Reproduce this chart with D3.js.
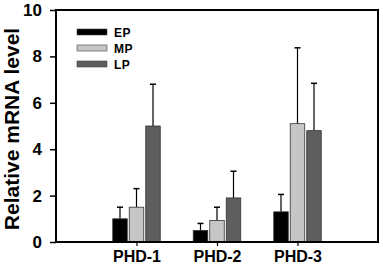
<!DOCTYPE html>
<html>
<head>
<meta charset="utf-8">
<script src="https://cdn.jsdelivr.net/npm/d3@7"></script>
<style>
  body { margin: 0; background: #fff; }
  svg { display: block; font-family: "Liberation Sans", Arial, sans-serif; }
</style>
</head>
<body>
<div id="chart"></div>
<script>
// chart data
const genes = ["PHD-1", "PHD-2", "PHD-3"];
const stages = ["EP", "MP", "LP"];
const epValues = [1.0, 0.5, 1.3];
const mpValues = [1.5, 0.93, 5.1];
const lpValues = [5.0, 1.9, 4.8];
const epErrors = [0.5, 0.3, 0.75];
const mpErrors = [0.8, 0.57, 3.27];
const lpErrors = [1.8, 1.15, 2.04];
const yTicks = [0, 2, 4, 6, 8, 10];

const width = 383, height = 265;
const margin = { top: 10, right: 5, bottom: 23, left: 56 };
const colors = { EP: "#000000", MP: "#c6c6c6", LP: "#5e5e5e" };

const svg = d3.select("#chart").append("svg")
    .attr("width", width)
    .attr("height", height);

const innerW = width - margin.left - margin.right;
const innerH = height - margin.top - margin.bottom;
const g = svg.append("g")
    .attr("transform", `translate(${margin.left},${margin.top})`);

// scales
const x = d3.scaleLinear().domain([0, genes.length + 1]).range([0, innerW]);
const y = d3.scaleLinear().domain([0, 10]).range([innerH, 0]);

const barW = 14.5, barGap = 2;
const series = [
    { key: "EP", values: epValues, errors: epErrors },
    { key: "MP", values: mpValues, errors: mpErrors },
    { key: "LP", values: lpValues, errors: lpErrors }
];

const rows = [];
series.forEach((s, si) => {
    genes.forEach((gene, gi) => {
        rows.push({ key: s.key, si: si, gi: gi, value: s.values[gi], err: s.errors[gi] });
    });
});
const barX = d => x(d.gi + 1) + (d.si - 1) * (barW + barGap) - barW / 2;

// error bars (up only)
g.selectAll(".err")
    .data(rows)
    .enter().append("line")
    .attr("class", "err")
    .attr("x1", d => barX(d) + barW / 2)
    .attr("x2", d => barX(d) + barW / 2)
    .attr("y1", d => y(d.value))
    .attr("y2", d => y(d.value + d.err))
    .attr("stroke", "#000")
    .attr("stroke-width", 1.2);

g.selectAll(".cap")
    .data(rows)
    .enter().append("line")
    .attr("class", "cap")
    .attr("x1", d => barX(d) + barW / 2 - 3)
    .attr("x2", d => barX(d) + barW / 2 + 3)
    .attr("y1", d => y(d.value + d.err))
    .attr("y2", d => y(d.value + d.err))
    .attr("stroke", "#000")
    .attr("stroke-width", 1.5);

// bars
g.selectAll(".bar")
    .data(rows)
    .enter().append("rect")
    .attr("class", "bar")
    .attr("x", barX)
    .attr("y", d => y(d.value))
    .attr("width", barW)
    .attr("height", d => innerH - y(d.value))
    .attr("fill", d => colors[d.key])
    .attr("stroke", "#333")
    .attr("stroke-width", 0.8);

// axes
const yAxis = d3.axisLeft(y).tickValues(yTicks).tickSize(6).tickPadding(8);
g.append("g")
    .attr("class", "y-axis")
    .call(yAxis)
    .call(a => a.select(".domain").remove())
    .call(a => a.selectAll("line").attr("stroke-width", 1.5))
    .call(a => a.selectAll("text")
        .attr("font-size", 17)
        .attr("font-weight", "bold")
        .attr("font-family", "Liberation Sans, Arial, sans-serif")
        .attr("fill", "#000"));

const xAxis = d3.axisBottom(x)
    .tickValues(genes.map((d, i) => i + 1))
    .tickFormat((d, i) => genes[i])
    .tickSize(4).tickPadding(5);
g.append("g")
    .attr("class", "x-axis")
    .attr("transform", `translate(0,${innerH})`)
    .call(xAxis)
    .call(a => a.select(".domain").remove())
    .call(a => a.selectAll("line").attr("stroke-width", 1.2))
    .call(a => a.selectAll("text")
        .attr("font-size", 16)
        .attr("font-weight", "bold")
        .attr("font-family", "Liberation Sans, Arial, sans-serif")
        .attr("fill", "#000"));

// frame
g.append("rect")
    .attr("x", 0).attr("y", 0)
    .attr("width", innerW).attr("height", innerH)
    .attr("fill", "none")
    .attr("stroke", "#000")
    .attr("stroke-width", 2);

// y label
svg.append("text")
    .attr("transform", `translate(18.5,${margin.top + innerH / 2 + 3}) rotate(-90)`)
    .attr("text-anchor", "middle")
    .attr("font-size", 21)
    .attr("font-weight", "bold")
    .text("Relative mRNA level");

// legend
const legend = g.append("g").attr("transform", "translate(21,19)");
stages.forEach((s, i) => {
    const row = legend.append("g").attr("transform", `translate(0,${i * 16})`);
    row.append("rect")
        .attr("x", 0).attr("y", 0)
        .attr("width", 30).attr("height", 6)
        .attr("fill", colors[s])
        .attr("stroke", "#444")
        .attr("stroke-width", 0.6);
    row.append("text")
        .attr("x", 37).attr("y", 8)
        .attr("font-size", 12)
        .attr("font-weight", "bold")
        .attr("letter-spacing", 0.5)
        .text(s);
});
</script>
</body>
</html>
